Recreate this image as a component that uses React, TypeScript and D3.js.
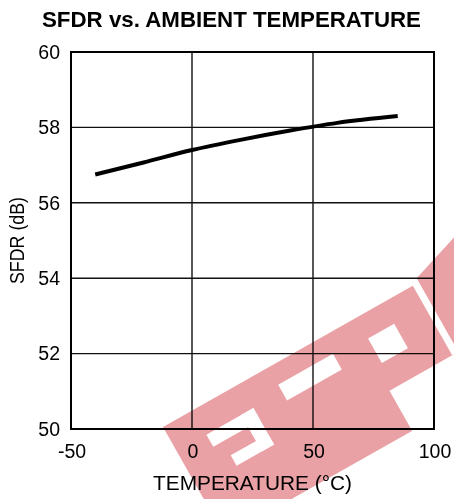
import React from "react";
import * as d3 from "d3";

const temps = [-40, -20, 0, 20, 40, 60, 85];
const sfdr = [56.75, 57.07, 57.4, 57.67, 57.91, 58.12, 58.3];
const xTicks = [-50, 0, 50, 100];
const yTicks = [50, 52, 54, 56, 58, 60];
const title = "SFDR vs. AMBIENT TEMPERATURE";
const xLabel = "TEMPERATURE (°C)";
const yLabel = "SFDR (dB)";

// watermark decoration (local rotated frame: [u0, v0, u1, v1])
const wmCutouts: [number, number, number, number][] = [
  [34, 28, 88, 42],
  [74, 28, 88, 70],
  [45, 58, 88, 70],
  [121, 20, 184, 38],
  [222, 24, 252, 52],
  [215, 80, 300, 140],
  [287, -30, 294, 80],
];

export default function App() {
  const W = 454, H = 499;
  const left = 71, right = 434, top = 52, bottom = 429;
  const x = d3.scaleLinear().domain([-50, 100]).range([left, right]);
  const y = d3.scaleLinear().domain([50, 60]).range([bottom, top]);
  const data = temps.map((t, i) => [t, sfdr[i]] as [number, number]);
  const line = d3
    .line<[number, number]>()
    .x((d) => x(d[0]))
    .y((d) => y(d[1]))
    .curve(d3.curveMonotoneX);
  const font = "'Liberation Sans', Arial, sans-serif";
  return (
    <svg
      width={W}
      height={H}
      style={{ position: "absolute", left: 0, top: 0, background: "#fff" }}
      fontFamily={font}
    >
      <defs>
        <mask id="wm" maskUnits="userSpaceOnUse" x={-100} y={-100} width={700} height={400}>
          <rect x={0} y={0} width={292} height={126} fill="#fff" />
          <polygon points="292,-4 360,-26 460,-26 460,140 292,140" fill="#fff" />
          {wmCutouts.map((c, i) => (
            <rect key={i} x={c[0]} y={c[1]} width={c[2] - c[0]} height={c[3] - c[1]} fill="#000" />
          ))}
        </mask>
      </defs>
      <text x={231.5} y={27} textAnchor="middle" fontSize={22} fontWeight="bold" fill="#000" textLength={379} lengthAdjust="spacingAndGlyphs">
        {title}
      </text>
      {/* grid */}
      {xTicks.slice(1, -1).map((t) => (
        <line key={"gx" + t} x1={x(t)} x2={x(t)} y1={top} y2={bottom} stroke="#111" strokeWidth={1.4} />
      ))}
      {yTicks.slice(1, -1).map((t) => (
        <line key={"gy" + t} x1={left} x2={right} y1={y(t)} y2={y(t)} stroke="#111" strokeWidth={1.4} />
      ))}
      <rect x={left} y={top} width={right - left} height={bottom - top} fill="none" stroke="#000" strokeWidth={2} />
      {/* tick labels */}
      {yTicks.map((t) => (
        <text key={"yl" + t} x={60} y={y(t) + 6.8} textAnchor="end" fontSize={19.5} fill="#000">
          {t}
        </text>
      ))}
      {xTicks.map((t) => (
        <text key={"xl" + t} x={x(t) + 1} y={458} textAnchor="middle" fontSize={19.5} fill="#000">
          {t}
        </text>
      ))}
      <text x={252.5} y={490} textAnchor="middle" fontSize={21} fill="#000" textLength={199} lengthAdjust="spacingAndGlyphs">
        {xLabel}
      </text>
      <text
        transform={`translate(23.5,${(top + bottom) / 2}) rotate(-90)`}
        textAnchor="middle"
        fontSize={20}
        fill="#000"
        textLength={87}
        lengthAdjust="spacingAndGlyphs"
      >
        {yLabel}
      </text>
      <path d={line(data) || ""} fill="none" stroke="#000" strokeWidth={4} strokeLinecap="butt" />
      {/* watermark */}
      <g transform="translate(163,427) rotate(-29.5)" style={{ mixBlendMode: "multiply" }}>
        <rect x={-20} y={-60} width={520} height={240} fill="rgb(233,161,165)" mask="url(#wm)" />
      </g>
    </svg>
  );
}
